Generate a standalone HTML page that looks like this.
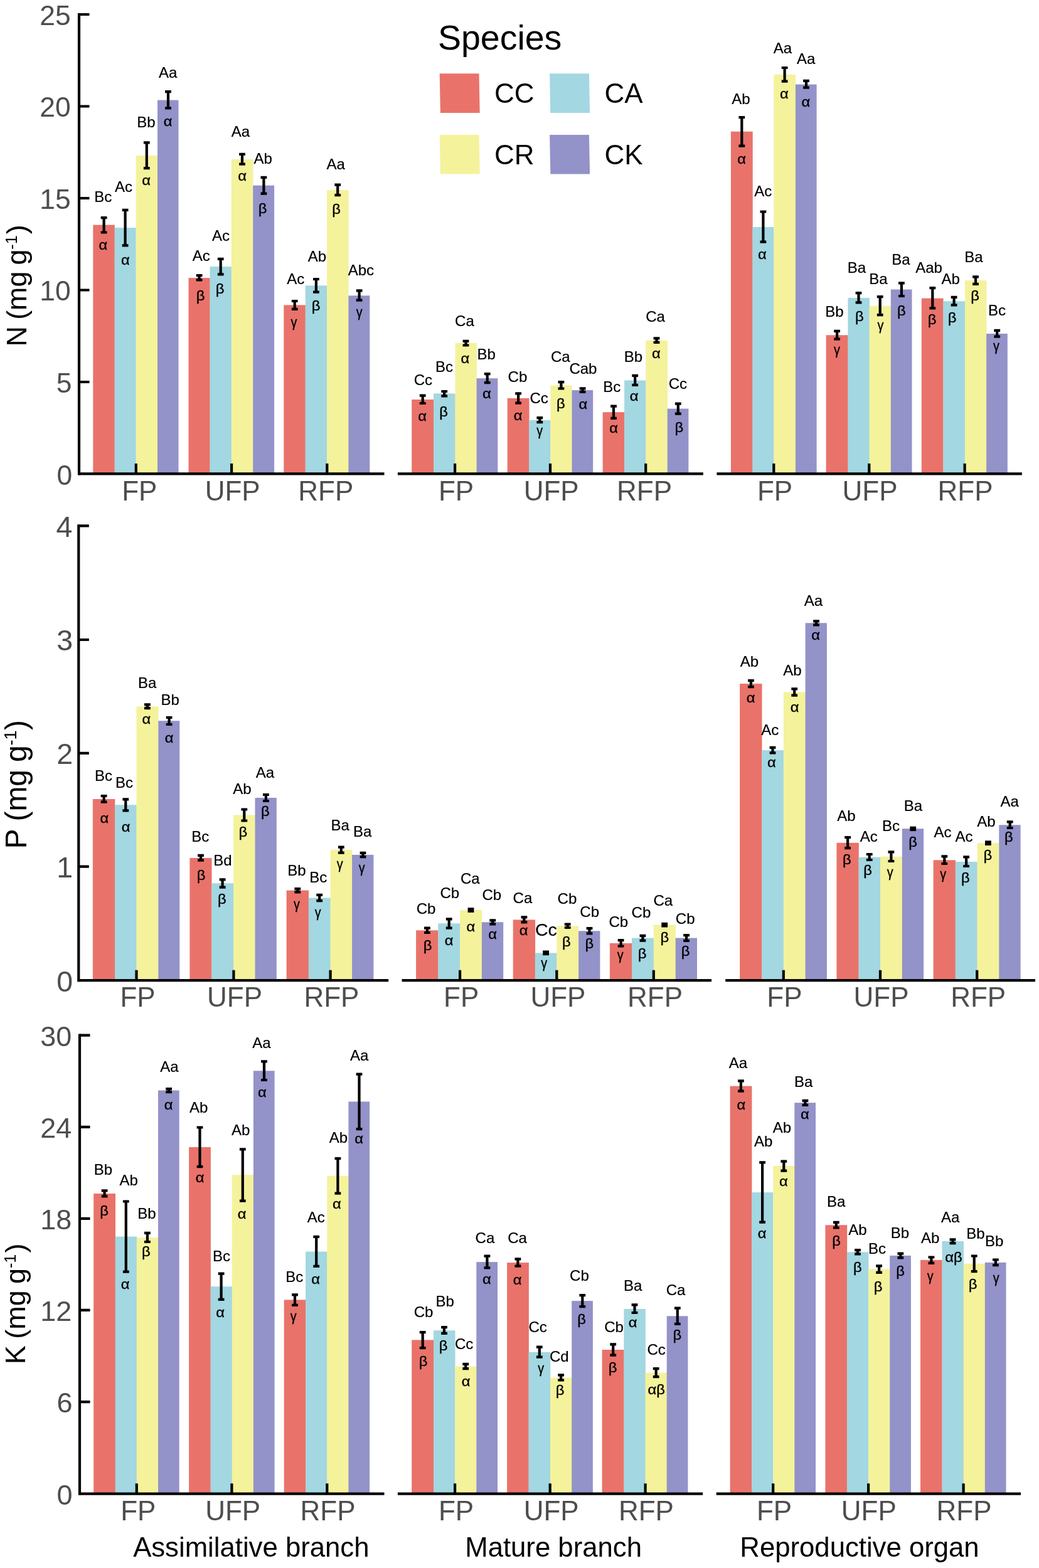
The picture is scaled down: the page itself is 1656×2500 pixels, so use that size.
<!DOCTYPE html>
<html lang="en">
<head>
<meta charset="utf-8">
<title>N, P and K concentrations by species</title>
<style>
html,body{margin:0;padding:0;background:#fff}
svg{display:block}
text{font-family:"Liberation Sans",Arial,Helvetica,sans-serif}
.t{font-size:44px;fill:#4D4D4D}
.l{font-size:24px;fill:#000;text-anchor:middle;stroke:#000;stroke-width:.2px}
.g{font-size:22px;fill:#000;text-anchor:middle;stroke:#000;stroke-width:.35px}
.b{font-size:28.5px}
.k{font-size:44px;fill:#000}
.ax{stroke:#000;stroke-width:4.2;fill:none;stroke-linecap:butt}
.e{fill:#000}
.c0{fill:#E9736A}.c1{fill:#A3D7E1}.c2{fill:#F5F29C}.c3{fill:#9392C9}
</style>
</head>
<body>
<svg width="1656" height="2500" viewBox="0 0 1656 2500">
<rect width="1656" height="2500" fill="#fff"/>
<g id="r1p1">
<rect class="c0" x="148.3" y="358.6" width="34.6" height="396.9"/>
<rect class="c1" x="182.6" y="363.1" width="34.3" height="392.4"/>
<rect class="c2" x="216.6" y="247.9" width="34.7" height="507.6"/>
<rect class="c3" x="251" y="159.6" width="33.5" height="595.9"/>
<rect class="c0" x="300.5" y="443.1" width="34.3" height="312.4"/>
<rect class="c1" x="334.5" y="425.1" width="34.7" height="330.4"/>
<rect class="c2" x="368.8" y="254" width="34.7" height="501.5"/>
<rect class="c3" x="403.2" y="295.7" width="33.9" height="459.8"/>
<rect class="c0" x="452.3" y="486.4" width="34.6" height="269.1"/>
<rect class="c1" x="486.7" y="455.3" width="34.7" height="300.2"/>
<rect class="c2" x="521" y="303.1" width="34.7" height="452.4"/>
<rect class="c3" x="555.4" y="471.3" width="33.9" height="284.2"/>
<path class="e" d="M160.7 345h9.8v4.2h-2.8V368.4h2.8v4.2h-9.8v-4.2h2.8V349.2h-2.8z"/>
<path class="e" d="M194.7 332.8h9.8v4.2h-2.8V389.3h2.8v4.2h-9.8v-4.2h2.8V337h-2.8z"/>
<path class="e" d="M228.9 225.2h9.8v4.2h-2.8V266h2.8v4.2h-9.8v-4.2h2.8V229.4h-2.8z"/>
<path class="e" d="M263.1 144h9.8v4.2h-2.8V170.3h2.8v4.2h-9.8v-4.2h2.8V148.2h-2.8z"/>
<path class="e" d="M312.7 437.1h9.8v4.2h-2.8V444.2h2.8v4.2h-9.8v-4.2h2.8V441.3h-2.8z"/>
<path class="e" d="M346.8 410.8h9.8v4.2h-2.8V435.2h2.8v4.2h-9.8v-4.2h2.8V415h-2.8z"/>
<path class="e" d="M381.1 243.8h9.8v4.2h-2.8V259.6h2.8v4.2h-9.8v-4.2h2.8V248h-2.8z"/>
<path class="e" d="M415.5 280.8h9.8v4.2h-2.8V306.5h2.8v4.2h-9.8v-4.2h2.8V285h-2.8z"/>
<path class="e" d="M464.8 477.9h9.8v4.2h-2.8V490.8h2.8v4.2h-9.8v-4.2h2.8V482.1h-2.8z"/>
<path class="e" d="M499 442.9h9.8v4.2h-2.8V463.5h2.8v4.2h-9.8v-4.2h2.8V447.1h-2.8z"/>
<path class="e" d="M533.3 292.6h9.8v4.2h-2.8V309h2.8v4.2h-9.8v-4.2h2.8V296.8h-2.8z"/>
<path class="e" d="M567.7 461.2h9.8v4.2h-2.8V476.6h2.8v4.2h-9.8v-4.2h2.8V465.4h-2.8z"/>
<text class="l" transform="translate(164.3 321.7) scale(1.0 1)">Bc</text>
<text class="g" transform="translate(164.3 398.3) scale(1.08 1)">α</text>
<text class="l" transform="translate(197.1 305.6) scale(1.0 1)">Ac</text>
<text class="g" transform="translate(199.9 422.4) scale(1.08 1)">α</text>
<text class="l" transform="translate(233 202.9) scale(1.0 1)">Bb</text>
<text class="g" transform="translate(233 295.2) scale(1.08 1)">α</text>
<text class="l" transform="translate(267.7 124.2) scale(1.0 1)">Aa</text>
<text class="g" transform="translate(267.7 201.2) scale(1.08 1)">α</text>
<text class="l" transform="translate(320.7 415.8) scale(1.0 1)">Ac</text>
<text class="g" transform="translate(319.7 479.2) scale(1.08 1)">β</text>
<text class="l" transform="translate(352.1 384.3) scale(1.0 1)">Ac</text>
<text class="g" transform="translate(350.5 468) scale(1.08 1)">β</text>
<text class="l" transform="translate(383.3 218.3) scale(1.0 1)">Aa</text>
<text class="g" transform="translate(386.2 287.5) scale(1.08 1)">α</text>
<text class="l" transform="translate(419.2 260.7) scale(1.0 1)">Ab</text>
<text class="g" transform="translate(418.6 340.2) scale(1.08 1)">β</text>
<text class="l" transform="translate(471.3 453) scale(1.0 1)">Ac</text>
<text class="g" transform="translate(468.4 521) scale(0.9 1)">γ</text>
<text class="l" transform="translate(505.3 417) scale(1.0 1)">Ab</text>
<text class="g" transform="translate(503.7 495.3) scale(1.08 1)">β</text>
<text class="l" transform="translate(535.2 269.7) scale(1.0 1)">Aa</text>
<text class="g" transform="translate(536.1 340.5) scale(1.08 1)">β</text>
<text class="l" transform="translate(575.3 439.2) scale(1.0 1)">Abc</text>
<text class="g" transform="translate(572.7 504.9) scale(0.9 1)">γ</text>
</g>
<g id="r1p2">
<rect class="c0" x="656.2" y="637" width="35.1" height="118.5"/>
<rect class="c1" x="691" y="627.4" width="34.8" height="128.1"/>
<rect class="c2" x="725.5" y="546.8" width="34.5" height="208.7"/>
<rect class="c3" x="759.6" y="603.2" width="33.7" height="152.3"/>
<rect class="c0" x="808.7" y="635" width="34.8" height="120.5"/>
<rect class="c1" x="843.2" y="669.8" width="34.5" height="85.7"/>
<rect class="c2" x="877.3" y="614.4" width="34.5" height="141.1"/>
<rect class="c3" x="911.5" y="622.1" width="33.7" height="133.4"/>
<rect class="c0" x="960.6" y="657.2" width="34.8" height="98.3"/>
<rect class="c1" x="995.1" y="606.5" width="34.5" height="149"/>
<rect class="c2" x="1029.2" y="542.8" width="34.8" height="212.7"/>
<rect class="c3" x="1063.7" y="651.6" width="33.7" height="103.9"/>
<path class="e" d="M668.8 628.5h9.8v4.2h-2.8V640.9h2.8v4.2h-9.8v-4.2h2.8V632.7h-2.8z"/>
<path class="e" d="M703.3 621.9h9.8v4.2h-2.8V629.3h2.8v4.2h-9.8v-4.2h2.8V626.1h-2.8z"/>
<path class="e" d="M737.6 541.7h9.8v4.2h-2.8V548.4h2.8v4.2h-9.8v-4.2h2.8V545.9h-2.8z"/>
<path class="e" d="M771.8 594.1h9.8v4.2h-2.8V608.1h2.8v4.2h-9.8v-4.2h2.8V598.3h-2.8z"/>
<path class="e" d="M821.2 625.2h9.8v4.2h-2.8V640.6h2.8v4.2h-9.8v-4.2h2.8V629.4h-2.8z"/>
<path class="e" d="M855.4 664h9.8v4.2h-2.8V671.1h2.8v4.2h-9.8v-4.2h2.8V668.2h-2.8z"/>
<path class="e" d="M889.5 607h9.8v4.2h-2.8V617.4h2.8v4.2h-9.8v-4.2h2.8V611.2h-2.8z"/>
<path class="e" d="M923.7 617.3h9.8v4.2h-2.8V622.7h2.8v4.2h-9.8v-4.2h2.8V621.5h-2.8z"/>
<path class="e" d="M973.1 645.5h9.8v4.2h-2.8V664.8h2.8v4.2h-9.8v-4.2h2.8V649.7h-2.8z"/>
<path class="e" d="M1007.3 596.7h9.8v4.2h-2.8V611.7h2.8v4.2h-9.8v-4.2h2.8V600.9h-2.8z"/>
<path class="e" d="M1041.6 537.3h9.8v4.2h-2.8V543.7h2.8v4.2h-9.8v-4.2h2.8V541.5h-2.8z"/>
<path class="e" d="M1075.9 641.5h9.8v4.2h-2.8V657.5h2.8v4.2h-9.8v-4.2h2.8V645.7h-2.8z"/>
<text class="l" transform="translate(674.4 613.7) scale(1.0 1)">Cc</text>
<text class="g" transform="translate(673.1 670.6) scale(1.08 1)">α</text>
<text class="l" transform="translate(707.9 592.5) scale(1.0 1)">Bc</text>
<text class="g" transform="translate(707.2 663.7) scale(1.08 1)">β</text>
<text class="l" transform="translate(740.4 520.2) scale(1.0 1)">Ca</text>
<text class="g" transform="translate(741.4 578.8) scale(1.08 1)">α</text>
<text class="l" transform="translate(775.2 572.6) scale(1.0 1)">Bb</text>
<text class="g" transform="translate(775.9 634.8) scale(1.08 1)">α</text>
<text class="l" transform="translate(824.9 609.1) scale(1.0 1)">Cb</text>
<text class="g" transform="translate(825.6 669.6) scale(1.08 1)">α</text>
<text class="l" transform="translate(859.1 642.9) scale(1.0 1)">Cc</text>
<text class="g" transform="translate(860.1 694.2) scale(0.9 1)">γ</text>
<text class="l" transform="translate(893.3 577.2) scale(1.0 1)">Ca</text>
<text class="g" transform="translate(893.9 650.7) scale(1.08 1)">β</text>
<text class="l" transform="translate(929.4 595.8) scale(1.0 1)">Cab</text>
<text class="g" transform="translate(929.4 651.7) scale(1.08 1)">α</text>
<text class="l" transform="translate(975.2 625.3) scale(1.0 1)">Bc</text>
<text class="g" transform="translate(978.2 689.5) scale(1.08 1)">α</text>
<text class="l" transform="translate(1009.3 577.2) scale(1.0 1)">Bb</text>
<text class="g" transform="translate(1010.7 638.5) scale(1.08 1)">α</text>
<text class="l" transform="translate(1044.5 512.9) scale(1.0 1)">Ca</text>
<text class="g" transform="translate(1045.8 571.1) scale(1.08 1)">α</text>
<text class="l" transform="translate(1080.3 620.3) scale(1.0 1)">Cc</text>
<text class="g" transform="translate(1082.3 688.5) scale(1.08 1)">β</text>
</g>
<g id="r1p3">
<rect class="c0" x="1164.9" y="209.7" width="34.8" height="545.8"/>
<rect class="c1" x="1199.4" y="362" width="34.2" height="393.5"/>
<rect class="c2" x="1233.3" y="118.8" width="34.9" height="636.7"/>
<rect class="c3" x="1267.9" y="134.6" width="33.7" height="620.9"/>
<rect class="c0" x="1316.6" y="534.3" width="35.2" height="221.2"/>
<rect class="c1" x="1351.4" y="474.9" width="34.5" height="280.6"/>
<rect class="c2" x="1385.6" y="487.7" width="34.5" height="267.8"/>
<rect class="c3" x="1419.8" y="461.5" width="33.7" height="294"/>
<rect class="c0" x="1468.8" y="475.6" width="34.8" height="279.9"/>
<rect class="c1" x="1503.4" y="480.3" width="34.9" height="275.2"/>
<rect class="c2" x="1537.9" y="447.1" width="34.5" height="308.4"/>
<rect class="c3" x="1572.1" y="532" width="33.7" height="223.5"/>
<path class="e" d="M1177.4 185.1h9.8v4.2h-2.8V230.5h2.8v4.2h-9.8v-4.2h2.8V189.3h-2.8z"/>
<path class="e" d="M1211.5 335.4h9.8v4.2h-2.8V383.5h2.8v4.2h-9.8v-4.2h2.8V339.6h-2.8z"/>
<path class="e" d="M1245.7 105.9h9.8v4.2h-2.8V127.5h2.8v4.2h-9.8v-4.2h2.8V110.1h-2.8z"/>
<path class="e" d="M1280.1 126.7h9.8v4.2h-2.8V137.6h2.8v4.2h-9.8v-4.2h2.8V130.9h-2.8z"/>
<path class="e" d="M1329.2 525.8h9.8v4.2h-2.8V538.6h2.8v4.2h-9.8v-4.2h2.8V530h-2.8z"/>
<path class="e" d="M1363.6 465.1h9.8v4.2h-2.8V480.3h2.8v4.2h-9.8v-4.2h2.8V469.3h-2.8z"/>
<path class="e" d="M1397.8 471.1h9.8v4.2h-2.8V500.1h2.8v4.2h-9.8v-4.2h2.8V475.3h-2.8z"/>
<path class="e" d="M1432 449.3h9.8v4.2h-2.8V469.9h2.8v4.2h-9.8v-4.2h2.8V453.5h-2.8z"/>
<path class="e" d="M1481.4 457h9.8v4.2h-2.8V489.3h2.8v4.2h-9.8v-4.2h2.8V461.2h-2.8z"/>
<path class="e" d="M1515.7 471.8h9.8v4.2h-2.8V484.3h2.8v4.2h-9.8v-4.2h2.8V476h-2.8z"/>
<path class="e" d="M1550.1 439.2h9.8v4.2h-2.8V450.8h2.8v4.2h-9.8v-4.2h2.8V443.4h-2.8z"/>
<path class="e" d="M1584.3 524.8h9.8v4.2h-2.8V534.6h2.8v4.2h-9.8v-4.2h2.8V529h-2.8z"/>
<text class="l" transform="translate(1181 166.1) scale(1.0 1)">Ab</text>
<text class="g" transform="translate(1182 261.2) scale(1.08 1)">α</text>
<text class="l" transform="translate(1216.2 313) scale(1.0 1)">Ac</text>
<text class="g" transform="translate(1214.9 413.2) scale(1.08 1)">α</text>
<text class="l" transform="translate(1247.4 84.9) scale(1.0 1)">Aa</text>
<text class="g" transform="translate(1249.8 156.9) scale(1.08 1)">α</text>
<text class="l" transform="translate(1284.6 102.3) scale(1.0 1)">Aa</text>
<text class="g" transform="translate(1284.3 170) scale(1.08 1)">α</text>
<text class="l" transform="translate(1329.9 504.7) scale(1.0 1)">Bb</text>
<text class="g" transform="translate(1334 564.6) scale(0.9 1)">γ</text>
<text class="l" transform="translate(1365.5 435.3) scale(1.0 1)">Ba</text>
<text class="g" transform="translate(1369.9 511.6) scale(1.08 1)">β</text>
<text class="l" transform="translate(1400 452.7) scale(1.0 1)">Ba</text>
<text class="g" transform="translate(1403.4 525.7) scale(0.9 1)">γ</text>
<text class="l" transform="translate(1435.9 421.9) scale(1.0 1)">Ba</text>
<text class="g" transform="translate(1436.9 503.2) scale(1.08 1)">β</text>
<text class="l" transform="translate(1480.6 435.3) scale(1.0 1)">Aab</text>
<text class="g" transform="translate(1485.6 516.7) scale(1.08 1)">β</text>
<text class="l" transform="translate(1515.1 452.7) scale(1.0 1)">Ab</text>
<text class="g" transform="translate(1517.5 514.3) scale(1.08 1)">β</text>
<text class="l" transform="translate(1552 417.5) scale(1.0 1)">Ba</text>
<text class="g" transform="translate(1554 479.1) scale(1.08 1)">β</text>
<text class="l" transform="translate(1588.9 503) scale(1.0 1)">Bc</text>
<text class="g" transform="translate(1587.9 558.6) scale(0.9 1)">γ</text>
</g>
<g id="r2p1">
<rect class="c0" x="147.9" y="1274" width="35.4" height="289.3"/>
<rect class="c1" x="183" y="1283.3" width="34.8" height="280"/>
<rect class="c2" x="217.5" y="1126.4" width="35.1" height="436.9"/>
<rect class="c3" x="252.3" y="1149.3" width="34" height="414"/>
<rect class="c0" x="302.4" y="1367.9" width="35.1" height="195.4"/>
<rect class="c1" x="337.2" y="1408.3" width="35.1" height="155"/>
<rect class="c2" x="372" y="1299.5" width="34.8" height="263.8"/>
<rect class="c3" x="406.5" y="1272" width="34.3" height="291.3"/>
<rect class="c0" x="456.6" y="1419.6" width="35.4" height="143.7"/>
<rect class="c1" x="491.8" y="1431.5" width="35.1" height="131.8"/>
<rect class="c2" x="526.6" y="1354.9" width="34.8" height="208.4"/>
<rect class="c3" x="561.1" y="1362.9" width="34.3" height="200.4"/>
<path class="e" d="M160.7 1266.9h9.8v4.2h-2.8V1276.6h2.8v4.2h-9.8v-4.2h2.8V1271.1h-2.8z"/>
<path class="e" d="M195.4 1272.2h9.8v4.2h-2.8V1290.2h2.8v4.2h-9.8v-4.2h2.8V1276.4h-2.8z"/>
<path class="e" d="M230 1121.3h9.8v4.2h-2.8V1127h2.8v4.2h-9.8v-4.2h2.8V1125.5h-2.8z"/>
<path class="e" d="M264.7 1141.9h9.8v4.2h-2.8V1152.9h2.8v4.2h-9.8v-4.2h2.8V1146.1h-2.8z"/>
<path class="e" d="M315.1 1361.7h9.8v4.2h-2.8V1369.5h2.8v4.2h-9.8v-4.2h2.8V1365.9h-2.8z"/>
<path class="e" d="M349.7 1400.2h9.8v4.2h-2.8V1412.6h2.8v4.2h-9.8v-4.2h2.8V1404.4h-2.8z"/>
<path class="e" d="M384.4 1288.4h9.8v4.2h-2.8V1306.4h2.8v4.2h-9.8v-4.2h2.8V1292.6h-2.8z"/>
<path class="e" d="M419 1264.9h9.8v4.2h-2.8V1274.9h2.8v4.2h-9.8v-4.2h2.8V1269.1h-2.8z"/>
<path class="e" d="M469.4 1415.1h9.8v4.2h-2.8V1420.2h2.8v4.2h-9.8v-4.2h2.8V1419.3h-2.8z"/>
<path class="e" d="M504.3 1424.7h9.8v4.2h-2.8V1434.1h2.8v4.2h-9.8v-4.2h2.8V1428.9h-2.8z"/>
<path class="e" d="M538.9 1348.5h9.8v4.2h-2.8V1357.5h2.8v4.2h-9.8v-4.2h2.8V1352.7h-2.8z"/>
<path class="e" d="M573.6 1357.8h9.8v4.2h-2.8V1364.1h2.8v4.2h-9.8v-4.2h2.8V1362h-2.8z"/>
<text class="l" transform="translate(165.1 1245.4) scale(1.0 1)">Bc</text>
<text class="g" transform="translate(166.4 1311.9) scale(1.08 1)">α</text>
<text class="l" transform="translate(197.9 1256.4) scale(1.0 1)">Bc</text>
<text class="g" transform="translate(200.6 1325.5) scale(1.08 1)">α</text>
<text class="l" transform="translate(234.7 1096.5) scale(1.0 1)">Ba</text>
<text class="g" transform="translate(233.4 1154.4) scale(1.08 1)">α</text>
<text class="l" transform="translate(271.2 1124.4) scale(1.0 1)">Bb</text>
<text class="g" transform="translate(269.6 1183.6) scale(1.08 1)">α</text>
<text class="l" transform="translate(319.3 1341.9) scale(1.0 1)">Bc</text>
<text class="g" transform="translate(320.6 1403.1) scale(1.08 1)">β</text>
<text class="l" transform="translate(354.8 1380.1) scale(1.0 1)">Bd</text>
<text class="g" transform="translate(353.8 1440.6) scale(1.08 1)">β</text>
<text class="l" transform="translate(386 1266.3) scale(1.0 1)">Ab</text>
<text class="g" transform="translate(387.3 1333.8) scale(1.08 1)">β</text>
<text class="l" transform="translate(422.4 1239.8) scale(1.0 1)">Aa</text>
<text class="g" transform="translate(422.8 1301.3) scale(1.08 1)">β</text>
<text class="l" transform="translate(472.9 1396.3) scale(1.0 1)">Bb</text>
<text class="g" transform="translate(472.9 1448.6) scale(0.9 1)">γ</text>
<text class="l" transform="translate(507.3 1407.3) scale(1.0 1)">Bc</text>
<text class="g" transform="translate(506.7 1461.8) scale(0.9 1)">γ</text>
<text class="l" transform="translate(542.2 1323.7) scale(1.0 1)">Ba</text>
<text class="g" transform="translate(541.8 1384.6) scale(0.9 1)">γ</text>
<text class="l" transform="translate(577.7 1334.3) scale(1.0 1)">Ba</text>
<text class="g" transform="translate(576.7 1391.2) scale(0.9 1)">γ</text>
</g>
<g id="r2p2">
<rect class="c0" x="663.1" y="1483.3" width="35.4" height="80"/>
<rect class="c1" x="698.3" y="1472.3" width="35.1" height="91"/>
<rect class="c2" x="733.1" y="1451.1" width="35.1" height="112.2"/>
<rect class="c3" x="767.9" y="1470.3" width="34.3" height="93"/>
<rect class="c0" x="817.7" y="1466.4" width="35.4" height="96.9"/>
<rect class="c1" x="852.8" y="1519.4" width="34.8" height="43.9"/>
<rect class="c2" x="887.3" y="1476.3" width="35.1" height="87"/>
<rect class="c3" x="922.1" y="1484.3" width="34.3" height="79"/>
<rect class="c0" x="971.9" y="1503.8" width="35.4" height="59.5"/>
<rect class="c1" x="1007" y="1495.5" width="35.1" height="67.8"/>
<rect class="c2" x="1041.8" y="1474.6" width="35.1" height="88.7"/>
<rect class="c3" x="1076.7" y="1495.5" width="34.3" height="67.8"/>
<path class="e" d="M676 1477.5h9.8v4.2h-2.8V1484.9h2.8v4.2h-9.8v-4.2h2.8V1481.7h-2.8z"/>
<path class="e" d="M710.8 1463.2h9.8v4.2h-2.8V1477.6h2.8v4.2h-9.8v-4.2h2.8V1467.4h-2.8z"/>
<rect class="e" x="745.6" y="1447.2" width="9.8" height="7.7"/>
<path class="e" d="M780.4 1465.2h9.8v4.2h-2.8V1471.3h2.8v4.2h-9.8v-4.2h2.8V1469.4h-2.8z"/>
<path class="e" d="M830.5 1460.2h9.8v4.2h-2.8V1468.3h2.8v4.2h-9.8v-4.2h2.8V1464.4h-2.8z"/>
<rect class="e" x="865.2" y="1515.5" width="9.8" height="7.7"/>
<path class="e" d="M899.8 1471.5h9.8v4.2h-2.8V1476.9h2.8v4.2h-9.8v-4.2h2.8V1475.7h-2.8z"/>
<path class="e" d="M934.6 1478.1h9.8v4.2h-2.8V1486.2h2.8v4.2h-9.8v-4.2h2.8V1482.3h-2.8z"/>
<path class="e" d="M984.7 1497h9.8v4.2h-2.8V1506.4h2.8v4.2h-9.8v-4.2h2.8V1501.2h-2.8z"/>
<path class="e" d="M1019.5 1489.7h9.8v4.2h-2.8V1497.5h2.8v4.2h-9.8v-4.2h2.8V1493.9h-2.8z"/>
<rect class="e" x="1054.3" y="1470.8" width="9.8" height="7.7"/>
<path class="e" d="M1089.2 1489.1h9.8v4.2h-2.8V1497.8h2.8v4.2h-9.8v-4.2h2.8V1493.3h-2.8z"/>
<text class="l" transform="translate(679 1457.3) scale(1.0 1)">Cb</text>
<text class="g" transform="translate(681.7 1514.9) scale(1.08 1)">β</text>
<text class="l" transform="translate(716.8 1431.8) scale(1.0 1)">Cb</text>
<text class="g" transform="translate(715.5 1507.3) scale(1.08 1)">α</text>
<text class="l" transform="translate(749.3 1409.2) scale(1.0 1)">Ca</text>
<text class="g" transform="translate(750.3 1485.1) scale(1.08 1)">α</text>
<text class="l" transform="translate(783.8 1435.1) scale(1.0 1)">Cb</text>
<text class="g" transform="translate(785.2 1496.7) scale(1.08 1)">α</text>
<text class="l" transform="translate(832.9 1440.1) scale(1.0 1)">Ca</text>
<text class="g" transform="translate(834.6 1490.7) scale(1.08 1)">α</text>
<text class="l b" transform="translate(870.4 1491.5) scale(1.0 1)">Cc</text>
<text class="g" transform="translate(867.1 1542.8) scale(0.9 1)">γ</text>
<text class="l" transform="translate(903.9 1440.8) scale(1.0 1)">Cb</text>
<text class="g" transform="translate(902.9 1509.3) scale(1.08 1)">β</text>
<text class="l" transform="translate(939.7 1461.6) scale(1.0 1)">Cb</text>
<text class="g" transform="translate(939.4 1511.6) scale(1.08 1)">β</text>
<text class="l" transform="translate(985.8 1478.2) scale(1.0 1)">Cb</text>
<text class="g" transform="translate(988.8 1530.2) scale(0.9 1)">γ</text>
<text class="l" transform="translate(1021.9 1463.3) scale(1.0 1)">Cb</text>
<text class="g" transform="translate(1023.6 1528.2) scale(1.08 1)">β</text>
<text class="l" transform="translate(1056.8 1444.4) scale(1.0 1)">Ca</text>
<text class="g" transform="translate(1059.4 1502.3) scale(1.08 1)">β</text>
<text class="l" transform="translate(1092.2 1473.3) scale(1.0 1)">Cb</text>
<text class="g" transform="translate(1092.6 1523.9) scale(1.08 1)">β</text>
</g>
<g id="r2p3">
<rect class="c0" x="1179.1" y="1090.1" width="35.4" height="473.2"/>
<rect class="c1" x="1214.3" y="1196.2" width="34.8" height="367.1"/>
<rect class="c2" x="1248.8" y="1103.4" width="35.1" height="459.9"/>
<rect class="c3" x="1283.6" y="993.3" width="34.3" height="570"/>
<rect class="c0" x="1333.4" y="1343.8" width="35.4" height="219.5"/>
<rect class="c1" x="1368.5" y="1366.7" width="34.8" height="196.6"/>
<rect class="c2" x="1403" y="1365.7" width="35.1" height="197.6"/>
<rect class="c3" x="1437.8" y="1321.2" width="34.3" height="242.1"/>
<rect class="c0" x="1487.6" y="1371.3" width="35.4" height="192"/>
<rect class="c1" x="1522.7" y="1374" width="35.1" height="189.3"/>
<rect class="c2" x="1557.5" y="1344.1" width="35.1" height="219.2"/>
<rect class="c3" x="1592.3" y="1315.3" width="34.3" height="248"/>
<path class="e" d="M1192 1083h9.8v4.2h-2.8V1093h2.8v4.2h-9.8v-4.2h2.8V1087.2h-2.8z"/>
<path class="e" d="M1226.6 1189.8h9.8v4.2h-2.8V1198.2h2.8v4.2h-9.8v-4.2h2.8V1194h-2.8z"/>
<path class="e" d="M1261.3 1096.3h9.8v4.2h-2.8V1106.6h2.8v4.2h-9.8v-4.2h2.8V1100.5h-2.8z"/>
<path class="e" d="M1296.1 988.2h9.8v4.2h-2.8V994.2h2.8v4.2h-9.8v-4.2h2.8V992.4h-2.8z"/>
<path class="e" d="M1346.2 1333h9.8v4.2h-2.8V1350h2.8v4.2h-9.8v-4.2h2.8V1337.2h-2.8z"/>
<path class="e" d="M1380.8 1359.9h9.8v4.2h-2.8V1368.9h2.8v4.2h-9.8v-4.2h2.8V1364.1h-2.8z"/>
<path class="e" d="M1415.5 1356.2h9.8v4.2h-2.8V1370.9h2.8v4.2h-9.8v-4.2h2.8V1360.4h-2.8z"/>
<rect class="e" x="1450.3" y="1317.7" width="9.8" height="7.4"/>
<path class="e" d="M1500.4 1363.2h9.8v4.2h-2.8V1374.9h2.8v4.2h-9.8v-4.2h2.8V1367.4h-2.8z"/>
<path class="e" d="M1535.2 1364.2h9.8v4.2h-2.8V1378.9h2.8v4.2h-9.8v-4.2h2.8V1368.4h-2.8z"/>
<rect class="e" x="1570" y="1340.3" width="9.8" height="7.7"/>
<path class="e" d="M1604.8 1308.2h9.8v4.2h-2.8V1317.9h2.8v4.2h-9.8v-4.2h2.8V1312.4h-2.8z"/>
<text class="l" transform="translate(1194.4 1063.2) scale(1.0 1)">Ab</text>
<text class="g" transform="translate(1196.7 1120.4) scale(1.08 1)">α</text>
<text class="l" transform="translate(1227.2 1171.6) scale(1.0 1)">Ac</text>
<text class="g" transform="translate(1229.9 1223.2) scale(1.08 1)">α</text>
<text class="l" transform="translate(1263 1076.5) scale(1.0 1)">Ab</text>
<text class="g" transform="translate(1266.7 1134.7) scale(1.08 1)">α</text>
<text class="l" transform="translate(1296.5 965.7) scale(1.0 1)">Aa</text>
<text class="g" transform="translate(1300.2 1020.3) scale(1.08 1)">α</text>
<text class="l" transform="translate(1348.9 1308.6) scale(1.0 1)">Ab</text>
<text class="g" transform="translate(1349.9 1378.4) scale(1.08 1)">β</text>
<text class="l" transform="translate(1384.7 1341.7) scale(1.0 1)">Ac</text>
<text class="g" transform="translate(1383.1 1395) scale(1.08 1)">β</text>
<text class="l" transform="translate(1419.9 1325.2) scale(1.0 1)">Bc</text>
<text class="g" transform="translate(1418.6 1398) scale(0.9 1)">γ</text>
<text class="l" transform="translate(1455.4 1293) scale(1.0 1)">Ba</text>
<text class="g" transform="translate(1455 1350.2) scale(1.08 1)">β</text>
<text class="l" transform="translate(1502.5 1335.1) scale(1.0 1)">Ac</text>
<text class="g" transform="translate(1503.1 1401.3) scale(0.9 1)">γ</text>
<text class="l" transform="translate(1536.6 1342.4) scale(1.0 1)">Ac</text>
<text class="g" transform="translate(1538.9 1406.6) scale(1.08 1)">β</text>
<text class="l" transform="translate(1571.8 1317.5) scale(1.0 1)">Ab</text>
<text class="g" transform="translate(1574.4 1371.1) scale(1.08 1)">β</text>
<text class="l" transform="translate(1609.2 1286.4) scale(1.0 1)">Aa</text>
<text class="g" transform="translate(1607.9 1341.9) scale(1.08 1)">β</text>
</g>
<g id="r3p1">
<rect class="c0" x="149.2" y="1903" width="34.8" height="478.8"/>
<rect class="c1" x="183.7" y="1971.6" width="34.5" height="410.2"/>
<rect class="c2" x="217.8" y="1973.3" width="34.5" height="408.5"/>
<rect class="c3" x="252" y="1738.5" width="33.7" height="643.3"/>
<rect class="c0" x="301.1" y="1829" width="34.8" height="552.8"/>
<rect class="c1" x="335.6" y="2051.2" width="34.5" height="330.6"/>
<rect class="c2" x="369.7" y="1873.1" width="34.5" height="508.7"/>
<rect class="c3" x="403.9" y="1707.3" width="33.7" height="674.5"/>
<rect class="c0" x="452.7" y="2072.4" width="34.8" height="309.4"/>
<rect class="c1" x="487.1" y="1995.5" width="34.5" height="386.3"/>
<rect class="c2" x="521.3" y="1874.8" width="34.5" height="507"/>
<rect class="c3" x="555.4" y="1756.4" width="33.7" height="625.4"/>
<path class="e" d="M161.7 1896.2h9.8v4.2h-2.8V1905.2h2.8v4.2h-9.8v-4.2h2.8V1900.4h-2.8z"/>
<path class="e" d="M195.9 1913.4h9.8v4.2h-2.8V2025.6h2.8v4.2h-9.8v-4.2h2.8V1917.6h-2.8z"/>
<path class="e" d="M230 1963.8h9.8v4.2h-2.8V1977.9h2.8v4.2h-9.8v-4.2h2.8V1968h-2.8z"/>
<path class="e" d="M264.2 1734h9.8v4.2h-2.8V1739.1h2.8v4.2h-9.8v-4.2h2.8V1738.2h-2.8z"/>
<path class="e" d="M313.6 1795.4h9.8v4.2h-2.8V1858.1h2.8v4.2h-9.8v-4.2h2.8V1799.6h-2.8z"/>
<path class="e" d="M347.7 2028.5h9.8v4.2h-2.8V2069.7h2.8v4.2h-9.8v-4.2h2.8V2032.7h-2.8z"/>
<path class="e" d="M381.9 1830.2h9.8v4.2h-2.8V1912.5h2.8v4.2h-9.8v-4.2h2.8V1834.4h-2.8z"/>
<path class="e" d="M416.1 1690.3h9.8v4.2h-2.8V1719.9h2.8v4.2h-9.8v-4.2h2.8V1694.5h-2.8z"/>
<path class="e" d="M465.1 2062.3h9.8v4.2h-2.8V2078.7h2.8v4.2h-9.8v-4.2h2.8V2066.5h-2.8z"/>
<path class="e" d="M499.3 1969.8h9.8v4.2h-2.8V2016.7h2.8v4.2h-9.8v-4.2h2.8V1974h-2.8z"/>
<path class="e" d="M533.5 1845.1h9.8v4.2h-2.8V1900.6h2.8v4.2h-9.8v-4.2h2.8V1849.3h-2.8z"/>
<path class="e" d="M567.6 1710.5h9.8v4.2h-2.8V1798.1h2.8v4.2h-9.8v-4.2h2.8V1714.7h-2.8z"/>
<text class="l" transform="translate(164.4 1873.4) scale(1.0 1)">Bb</text>
<text class="g" transform="translate(166.1 1937.6) scale(1.08 1)">β</text>
<text class="l" transform="translate(205.2 1890) scale(1.0 1)">Ab</text>
<text class="g" transform="translate(199.6 2055.3) scale(1.08 1)">α</text>
<text class="l" transform="translate(233.8 1943.4) scale(1.0 1)">Bb</text>
<text class="g" transform="translate(232.8 2003.3) scale(1.08 1)">β</text>
<text class="l" transform="translate(269.9 1708.6) scale(1.0 1)">Aa</text>
<text class="g" transform="translate(268.6 1768.5) scale(1.08 1)">α</text>
<text class="l" transform="translate(316.7 1773.9) scale(1.0 1)">Ab</text>
<text class="g" transform="translate(318.6 1884.5) scale(1.08 1)">α</text>
<text class="l" transform="translate(353.1 2011.4) scale(1.0 1)">Bc</text>
<text class="g" transform="translate(351.1 2100.1) scale(1.08 1)">α</text>
<text class="l" transform="translate(383.6 1810.4) scale(1.0 1)">Ab</text>
<text class="g" transform="translate(385.6 1943.2) scale(1.08 1)">α</text>
<text class="l" transform="translate(416.8 1671.1) scale(1.0 1)">Aa</text>
<text class="g" transform="translate(417.8 1748.6) scale(1.08 1)">α</text>
<text class="l" transform="translate(469.2 2043.5) scale(1.0 1)">Bc</text>
<text class="g" transform="translate(467.6 2106.4) scale(0.9 1)">γ</text>
<text class="l" transform="translate(503.7 1949) scale(1.0 1)">Ac</text>
<text class="g" transform="translate(503 2047) scale(1.08 1)">α</text>
<text class="l" transform="translate(539.5 1822.3) scale(1.0 1)">Ab</text>
<text class="g" transform="translate(536.9 1926.7) scale(1.08 1)">α</text>
<text class="l" transform="translate(572.7 1691) scale(1.0 1)">Aa</text>
<text class="g" transform="translate(572 1822.5) scale(1.08 1)">α</text>
</g>
<g id="r3p2">
<rect class="c0" x="656.2" y="2136.4" width="35.1" height="245.4"/>
<rect class="c1" x="691" y="2121.2" width="34.5" height="260.6"/>
<rect class="c2" x="725.1" y="2178.5" width="34.5" height="203.3"/>
<rect class="c3" x="759.3" y="2012.1" width="33.7" height="369.7"/>
<rect class="c0" x="808.1" y="2013.1" width="34.8" height="368.7"/>
<rect class="c1" x="842.5" y="2155.7" width="34.8" height="226.1"/>
<rect class="c2" x="877" y="2196.5" width="34.5" height="185.3"/>
<rect class="c3" x="911.2" y="2074.1" width="33.7" height="307.7"/>
<rect class="c0" x="959.6" y="2152" width="35.1" height="229.8"/>
<rect class="c1" x="994.4" y="2087" width="34.5" height="294.8"/>
<rect class="c2" x="1028.6" y="2188.8" width="34.5" height="193"/>
<rect class="c3" x="1062.7" y="2098.3" width="33.7" height="283.5"/>
<path class="e" d="M668.8 2122h9.8v4.2h-2.8V2147h2.8v4.2h-9.8v-4.2h2.8V2126.2h-2.8z"/>
<path class="e" d="M703.1 2114.1h9.8v4.2h-2.8V2123.8h2.8v4.2h-9.8v-4.2h2.8V2118.3h-2.8z"/>
<path class="e" d="M737.3 2172.8h9.8v4.2h-2.8V2180.1h2.8v4.2h-9.8v-4.2h2.8V2177h-2.8z"/>
<path class="e" d="M771.5 2000.6h9.8v4.2h-2.8V2019.3h2.8v4.2h-9.8v-4.2h2.8V2004.8h-2.8z"/>
<path class="e" d="M820.5 2005.3h9.8v4.2h-2.8V2016.6h2.8v4.2h-9.8v-4.2h2.8V2009.5h-2.8z"/>
<path class="e" d="M854.9 2145.6h9.8v4.2h-2.8V2161.6h2.8v4.2h-9.8v-4.2h2.8V2149.8h-2.8z"/>
<path class="e" d="M889.2 2190.3h9.8v4.2h-2.8V2198.4h2.8v4.2h-9.8v-4.2h2.8V2194.5h-2.8z"/>
<path class="e" d="M923.4 2063h9.8v4.2h-2.8V2081h2.8v4.2h-9.8v-4.2h2.8V2067.2h-2.8z"/>
<path class="e" d="M972.3 2141.2h9.8v4.2h-2.8V2158.6h2.8v4.2h-9.8v-4.2h2.8V2145.4h-2.8z"/>
<path class="e" d="M1006.6 2078.2h9.8v4.2h-2.8V2090.9h2.8v4.2h-9.8v-4.2h2.8V2082.4h-2.8z"/>
<path class="e" d="M1040.8 2180h9.8v4.2h-2.8V2193.1h2.8v4.2h-9.8v-4.2h2.8V2184.2h-2.8z"/>
<path class="e" d="M1074.9 2083.5h9.8v4.2h-2.8V2108.8h2.8v4.2h-9.8v-4.2h2.8V2087.7h-2.8z"/>
<text class="l" transform="translate(675.1 2099.9) scale(1.0 1)">Cb</text>
<text class="g" transform="translate(674.7 2178) scale(1.08 1)">β</text>
<text class="l" transform="translate(709.2 2082.6) scale(1.0 1)">Bb</text>
<text class="g" transform="translate(706.6 2153.1) scale(1.08 1)">β</text>
<text class="l" transform="translate(739.7 2151.3) scale(1.0 1)">Cc</text>
<text class="g" transform="translate(742.7 2209.5) scale(1.08 1)">α</text>
<text class="l" transform="translate(772.9 1982.2) scale(1.0 1)">Ca</text>
<text class="g" transform="translate(775.9 2047) scale(1.08 1)">α</text>
<text class="l" transform="translate(824.6 1982.2) scale(1.0 1)">Ca</text>
<text class="g" transform="translate(824.6 2047.7) scale(1.08 1)">α</text>
<text class="l" transform="translate(857.1 2123.8) scale(1.0 1)">Cc</text>
<text class="g" transform="translate(862.1 2189.3) scale(0.9 1)">γ</text>
<text class="l" transform="translate(891.3 2171.2) scale(1.0 1)">Cd</text>
<text class="g" transform="translate(892.6 2224.4) scale(1.08 1)">β</text>
<text class="l" transform="translate(923.4 2041.8) scale(1.0 1)">Cb</text>
<text class="g" transform="translate(927.1 2110.7) scale(1.08 1)">β</text>
<text class="l" transform="translate(978.5 2123.8) scale(1.0 1)">Cb</text>
<text class="g" transform="translate(976.5 2188) scale(1.08 1)">β</text>
<text class="l" transform="translate(1008.7 2058.4) scale(1.0 1)">Ba</text>
<text class="g" transform="translate(1008.7 2116) scale(1.08 1)">α</text>
<text class="l" transform="translate(1046.1 2160.2) scale(1.0 1)">Cc</text>
<text class="g" transform="translate(1046.1 2222.8) scale(1.08 1)">αβ</text>
<text class="l" transform="translate(1077 2065.1) scale(1.0 1)">Ca</text>
<text class="g" transform="translate(1079.3 2135.9) scale(1.08 1)">β</text>
</g>
<g id="r3p3">
<rect class="c0" x="1163.6" y="1731.6" width="34.8" height="650.2"/>
<rect class="c1" x="1198" y="1901.1" width="34.5" height="480.7"/>
<rect class="c2" x="1232.2" y="1859" width="34.5" height="522.8"/>
<rect class="c3" x="1266.3" y="1758.2" width="33.7" height="623.6"/>
<rect class="c0" x="1315.4" y="1953.2" width="34.8" height="428.6"/>
<rect class="c1" x="1349.9" y="1996.3" width="34.5" height="385.5"/>
<rect class="c2" x="1384.1" y="2023.5" width="34.5" height="358.3"/>
<rect class="c3" x="1418.2" y="2001.9" width="33.7" height="379.9"/>
<rect class="c0" x="1467" y="2008.9" width="34.8" height="372.9"/>
<rect class="c1" x="1501.5" y="1979" width="34.5" height="402.8"/>
<rect class="c2" x="1535.6" y="2014.8" width="34.5" height="367"/>
<rect class="c3" x="1569.8" y="2012.9" width="33.7" height="368.9"/>
<path class="e" d="M1176 1721.2h9.8v4.2h-2.8V1737.5h2.8v4.2h-9.8v-4.2h2.8V1725.4h-2.8z"/>
<path class="e" d="M1210.2 1851.2h9.8v4.2h-2.8V1946.5h2.8v4.2h-9.8v-4.2h2.8V1855.4h-2.8z"/>
<path class="e" d="M1244.4 1849.5h9.8v4.2h-2.8V1864.6h2.8v4.2h-9.8v-4.2h2.8V1853.7h-2.8z"/>
<path class="e" d="M1278.5 1752.7h9.8v4.2h-2.8V1759.8h2.8v4.2h-9.8v-4.2h2.8V1756.9h-2.8z"/>
<path class="e" d="M1327.9 1946.7h9.8v4.2h-2.8V1955.4h2.8v4.2h-9.8v-4.2h2.8V1950.9h-2.8z"/>
<path class="e" d="M1362.1 1991.1h9.8v4.2h-2.8V1997.2h2.8v4.2h-9.8v-4.2h2.8V1995.3h-2.8z"/>
<path class="e" d="M1396.2 2016.3h9.8v4.2h-2.8V2026.7h2.8v4.2h-9.8v-4.2h2.8V2020.5h-2.8z"/>
<path class="e" d="M1430.4 1996.5h9.8v4.2h-2.8V2003.2h2.8v4.2h-9.8v-4.2h2.8V2000.7h-2.8z"/>
<path class="e" d="M1479.5 2002.4h9.8v4.2h-2.8V2011.8h2.8v4.2h-9.8v-4.2h2.8V2006.6h-2.8z"/>
<path class="e" d="M1513.6 1974.2h9.8v4.2h-2.8V1980h2.8v4.2h-9.8v-4.2h2.8V1978.4h-2.8z"/>
<path class="e" d="M1547.8 2000.4h9.8v4.2h-2.8V2025.1h2.8v4.2h-9.8v-4.2h2.8V2004.6h-2.8z"/>
<path class="e" d="M1582 2006.4h9.8v4.2h-2.8V2015.1h2.8v4.2h-9.8v-4.2h2.8V2010.6h-2.8z"/>
<text class="l" transform="translate(1176.5 1703) scale(1.0 1)">Aa</text>
<text class="g" transform="translate(1181.4 1768.6) scale(1.08 1)">α</text>
<text class="l" transform="translate(1216.6 1828.1) scale(1.0 1)">Ab</text>
<text class="g" transform="translate(1214.6 1974.2) scale(1.08 1)">α</text>
<text class="l" transform="translate(1246.4 1805.5) scale(1.0 1)">Ab</text>
<text class="g" transform="translate(1248.8 1890.6) scale(1.08 1)">α</text>
<text class="l" transform="translate(1280.6 1732.9) scale(1.0 1)">Ba</text>
<text class="g" transform="translate(1282.9 1784.2) scale(1.08 1)">α</text>
<text class="l" transform="translate(1332.7 1924.2) scale(1.0 1)">Ba</text>
<text class="g" transform="translate(1333 1985.8) scale(1.08 1)">β</text>
<text class="l" transform="translate(1366.8 1969) scale(1.0 1)">Ab</text>
<text class="g" transform="translate(1366.8 2028.2) scale(1.08 1)">β</text>
<text class="l" transform="translate(1398 1998.9) scale(1.0 1)">Bc</text>
<text class="g" transform="translate(1399.6 2058.8) scale(1.08 1)">β</text>
<text class="l" transform="translate(1434.5 1974) scale(1.0 1)">Bb</text>
<text class="g" transform="translate(1435.1 2033.9) scale(1.08 1)">β</text>
<text class="l" transform="translate(1482.6 1981.6) scale(1.0 1)">Ab</text>
<text class="g" transform="translate(1482.6 2041.8) scale(0.9 1)">γ</text>
<text class="l" transform="translate(1514.7 1949.1) scale(1.0 1)">Aa</text>
<text class="g" transform="translate(1520 2012.3) scale(1.08 1)">αβ</text>
<text class="l" transform="translate(1554.9 1975) scale(1.0 1)">Bb</text>
<text class="g" transform="translate(1550.5 2055.4) scale(1.08 1)">β</text>
<text class="l" transform="translate(1584.7 1987.3) scale(1.0 1)">Bb</text>
<text class="g" transform="translate(1587.7 2045.2) scale(0.9 1)">γ</text>
</g>
<g id="axes1">
<path class="ax" d="M126 20.9V757.5"/>
<path class="ax" d="M126 609h16.5M126 462.5h16.5M126 316h16.5M126 169.5h16.5M126 23h16.5"/>
<path class="ax" d="M125 755.4H612.5M216.8 755.4v-16.5M369.1 755.4v-16.5M521.3 755.4v-16.5"/>
<path class="ax" d="M633.9 755.4H1120.8M725.1 755.4v-16.5M877 755.4v-16.5M1029.2 755.4v-16.5"/>
<path class="ax" d="M1142.4 755.4H1628.8M1233.3 755.4v-16.5M1385.3 755.4v-16.5M1537.6 755.4v-16.5"/>
<text class="t" text-anchor="end" style="font-size:44.4px" x="115.2" y="772.8">0</text>
<text class="t" text-anchor="end" style="font-size:44.4px" x="114.4" y="625.7">5</text>
<text class="t" text-anchor="end" style="font-size:44.4px" x="112.7" y="479.2">10</text>
<text class="t" text-anchor="end" style="font-size:44.4px" x="112.7" y="332.7">15</text>
<text class="t" text-anchor="end" style="font-size:44.4px" x="112.7" y="186.2">20</text>
<text class="t" text-anchor="end" style="font-size:44.4px" x="112.7" y="39.7">25</text>
<text class="t" text-anchor="middle" x="222.3" y="797.6">FP</text>
<text class="t" text-anchor="middle" x="370.7" y="797.6">UFP</text>
<text class="t" text-anchor="middle" x="519.3" y="797.6">RFP</text>
<text class="t" text-anchor="middle" x="727" y="797.6">FP</text>
<text class="t" text-anchor="middle" x="878.7" y="797.6">UFP</text>
<text class="t" text-anchor="middle" x="1027" y="797.6">RFP</text>
<text class="t" text-anchor="middle" x="1235" y="797.6">FP</text>
<text class="t" text-anchor="middle" x="1386.6" y="797.6">UFP</text>
<text class="t" text-anchor="middle" x="1538.6" y="797.6">RFP</text>
</g>
<g id="axes2">
<path class="ax" d="M125.3 836.2V1565.3"/>
<path class="ax" d="M125.3 1381.7h16.5M125.3 1200.8h16.5M125.3 1020h16.5M125.3 838.3h16.5"/>
<path class="ax" d="M124.3 1563.2H619.2M217.5 1563.2v-16.5M372.4 1563.2v-16.5M526.6 1563.2v-16.5"/>
<path class="ax" d="M640.6 1563.2H1134M733.1 1563.2v-16.5M887.3 1563.2v-16.5M1041.8 1563.2v-16.5"/>
<path class="ax" d="M1156.2 1563.2H1650M1248.8 1563.2v-16.5M1403 1563.2v-16.5M1557.2 1563.2v-16.5"/>
<text class="t" text-anchor="end" style="font-size:46.5px" x="116" y="1581.3">0</text>
<text class="t" text-anchor="end" style="font-size:46.5px" x="116" y="1399.1">1</text>
<text class="t" text-anchor="end" style="font-size:46.5px" x="116" y="1218.2">2</text>
<text class="t" text-anchor="end" style="font-size:46.5px" x="116" y="1037.4">3</text>
<text class="t" text-anchor="end" style="font-size:46.5px" x="115.4" y="855.7">4</text>
<text class="t" text-anchor="middle" x="219.5" y="1604.9">FP</text>
<text class="t" text-anchor="middle" x="374" y="1604.9">UFP</text>
<text class="t" text-anchor="middle" x="528.4" y="1604.9">RFP</text>
<text class="t" text-anchor="middle" x="735.2" y="1604.9">FP</text>
<text class="t" text-anchor="middle" x="889.4" y="1604.9">UFP</text>
<text class="t" text-anchor="middle" x="1044" y="1604.9">RFP</text>
<text class="t" text-anchor="middle" x="1250.4" y="1604.9">FP</text>
<text class="t" text-anchor="middle" x="1404.6" y="1604.9">UFP</text>
<text class="t" text-anchor="middle" x="1559.2" y="1604.9">RFP</text>
</g>
<g id="axes3">
<path class="ax" d="M127 1648.5V2383.8"/>
<path class="ax" d="M127 2235.2h16.5M127 2088.9h16.5M127 1942.9h16.5M127 1796.9h16.5M127 1650.6h16.5"/>
<path class="ax" d="M126 2381.7H612.5M217.8 2381.7v-16.5M369.4 2381.7v-16.5M521.3 2381.7v-16.5"/>
<path class="ax" d="M633.9 2381.7H1120.1M725.1 2381.7v-16.5M876.7 2381.7v-16.5M1028.6 2381.7v-16.5"/>
<path class="ax" d="M1141.7 2381.7H1627M1232.2 2381.7v-16.5M1384.1 2381.7v-16.5M1535.6 2381.7v-16.5"/>
<text class="t" text-anchor="end" style="font-size:45px" x="115.5" y="2399.3">0</text>
<text class="t" text-anchor="end" style="font-size:45px" x="115.5" y="2252.1">6</text>
<text class="t" text-anchor="end" style="font-size:45px" x="114.2" y="2105.8">12</text>
<text class="t" text-anchor="end" style="font-size:45px" x="114.2" y="1959.8">18</text>
<text class="t" text-anchor="end" style="font-size:45px" x="114.2" y="1813.8">24</text>
<text class="t" text-anchor="end" style="font-size:45px" x="114.2" y="1667.5">30</text>
<text class="t" text-anchor="middle" x="220.3" y="2423.8">FP</text>
<text class="t" text-anchor="middle" x="371.2" y="2423.8">UFP</text>
<text class="t" text-anchor="middle" x="522.6" y="2423.8">RFP</text>
<text class="t" text-anchor="middle" x="727" y="2423.8">FP</text>
<text class="t" text-anchor="middle" x="878.7" y="2423.8">UFP</text>
<text class="t" text-anchor="middle" x="1029.9" y="2423.8">RFP</text>
<text class="t" text-anchor="middle" x="1234" y="2423.8">FP</text>
<text class="t" text-anchor="middle" x="1384.8" y="2423.8">UFP</text>
<text class="t" text-anchor="middle" x="1536.6" y="2423.8">RFP</text>
</g>
<g id="ytitles">
<text transform="translate(41.9 552.6) rotate(-90)" font-size="44.8" fill="#000">N<tspan dx="-2"> (mg</tspan><tspan dx="-2.4"> g</tspan><tspan font-size="25.1" dy="-15">-1</tspan><tspan dx="2.1" dy="15">)</tspan></text>
<text transform="translate(42.3 1353.6) rotate(-90)" font-size="48" fill="#000">P<tspan dx="-0.5"> (mg</tspan><tspan dx="-1.5"> g</tspan><tspan font-size="26.9" dy="-16.1">-1</tspan><tspan dx="0.6" dy="16.1">)</tspan></text>
<text transform="translate(40.4 2175.2) rotate(-90)" font-size="45" fill="#000">K<tspan dx="-2"> (mg</tspan><tspan dx="-2.4"> g</tspan><tspan font-size="25.2" dy="-15.1">-1</tspan><tspan dx="2.1" dy="15.1">)</tspan></text>
</g>
<g id="xtitles">
<text class="k" text-anchor="middle" style="font-size:43.7px" x="400.3" y="2482.0">Assimilative branch</text>
<text class="k" text-anchor="middle" style="font-size:43.7px" x="882.1" y="2482.0">Mature branch</text>
<text class="k" text-anchor="middle" style="font-size:43.7px" x="1370" y="2482.0">Reproductive organ</text>
</g>
<g id="legend">
<text x="697.9" y="79.0" font-size="55.5" fill="#000">Species</text>
<path class="c0" d="M700.7 117.3h62.8l1.2 62.6h-62.8z"/>
<text class="k" x="788" y="164.1">CC</text>
<path class="c1" d="M876.1 117.3h62.8l1.2 62.6h-62.8z"/>
<text class="k" x="963.4" y="164.1">CA</text>
<path class="c2" d="M700.7 215h62.8l1.2 62.6h-62.8z"/>
<text class="k" x="788" y="261.8">CR</text>
<path class="c3" d="M876.1 215h62.8l1.2 62.6h-62.8z"/>
<text class="k" x="963.4" y="261.8">CK</text>
</g>
</svg>
</body>
</html>
